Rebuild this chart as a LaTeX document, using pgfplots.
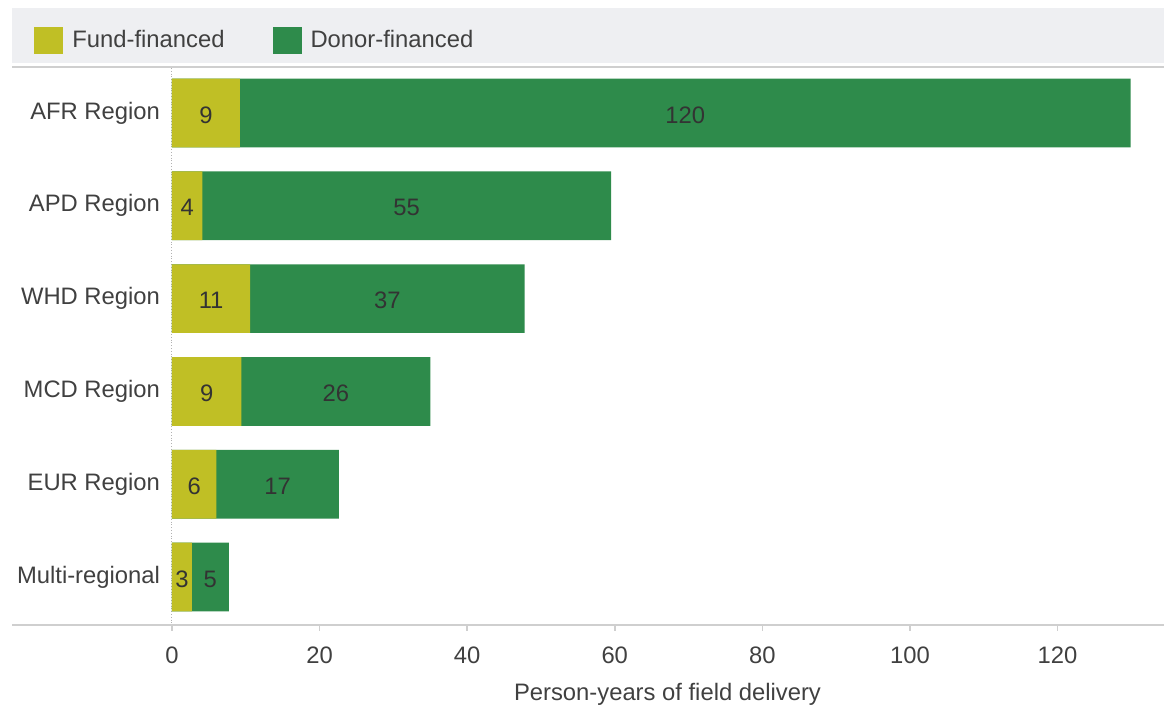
\documentclass[border=0pt]{standalone}
\usepackage{pgfplots}
\pgfplotsset{compat=1.18}
\usepackage{pgfplotstable}
\usepackage{fontspec}
\setmainfont{Liberation Sans}
\definecolor{fund}{HTML}{C0BF25}
\definecolor{donor}{HTML}{2E8B4B}
\definecolor{txt}{HTML}{404040}
\definecolor{band}{HTML}{EEEFF2}
\definecolor{rulec}{HTML}{CFCFCF}
\pgfplotstableread{
y fund donor fl dl
0 9.2 120.7 9 120
1 4.1 55.4 4 55
2 10.6 37.2 11 37
3 9.4 25.6 9 26
4 6.0 16.6 6 17
5 2.7 5.0 3 5
}\data
\begin{document}
\begin{tikzpicture}
\useasboundingbox (0,0) rectangle (582pt,353pt);
\fill[band] (6pt,321.5pt) rectangle (582pt,349pt);
\draw[rulec, line width=1pt] (6pt,319.5pt) -- (582pt,319.5pt);
\draw[rulec, line width=1pt] (6pt,40.5pt) -- (582pt,40.5pt);
\begin{axis}[
  at={(86pt,40.5pt)}, anchor=south west,
  scale only axis, width=495.5pt, height=278.5pt,
  xmin=0, xmax=134.3, ymin=-0.484, ymax=5.516, y dir=reverse,
  axis line style={draw=none},
  xtick={0,20,...,120}, ytick={0,...,5},
  yticklabels={AFR Region, APD Region, WHD Region, MCD Region, EUR Region, Multi-regional},
  xtick pos=bottom, tick align=outside, major tick length=3pt,
  x tick style={rulec, line width=0.8pt},
  y tick style={draw=none},
  /pgf/number format/assume math mode=true,
  every tick label/.append style={font=\fontsize{11.9}{14}\selectfont, text=txt},
  yticklabel style={anchor=east, xshift=0.5pt},
  xticklabel style={yshift=-4.5pt},
  xlabel={Person-years of field delivery},
  xlabel style={font=\fontsize{11.9}{14}\selectfont, text=txt, at={(axis description cs:0.5,0)}, anchor=center, yshift=-34.5pt},
  extra x ticks={0}, extra x tick labels={},
  extra x tick style={grid=major, major grid style={densely dotted, gray!60, line width=0.5pt}},
  legend columns=2, reverse legend,
  legend style={draw=none, fill=none, at={(axis description cs:-0.1453,1.05)}, anchor=west,
    font=\fontsize{11.9}{14}\selectfont, text=txt,
    /tikz/every odd column/.append style={column sep=2.5pt},
    /tikz/every even column/.append style={column sep=22pt}},
  legend image code/.code={\fill[#1] (0pt,-6.8pt) rectangle (14.5pt,6.8pt);},
  nodes near coords style={anchor=center, yshift=-1pt, font=\fontsize{11.9}{14}\selectfont, text=black!80},
]
\addplot[xbar, bar shift=0pt, bar width=0.74, fill=donor, draw=none]
  table[x expr=\thisrow{fund}+\thisrow{donor}, y=y] {\data};
\addlegendentry{Donor-financed}
\addplot[xbar, bar shift=0pt, bar width=0.74, fill=fund, draw=none]
  table[x=fund, y=y] {\data};
\addlegendentry{Fund-financed}
\addplot[draw=none, mark=none, forget plot, nodes near coords, point meta=explicit symbolic]
  table[x expr=\thisrow{fund}/2, y=y, meta=fl] {\data};
\addplot[draw=none, mark=none, forget plot, nodes near coords, point meta=explicit symbolic]
  table[x expr=\thisrow{fund}+\thisrow{donor}/2, y=y, meta=dl] {\data};
\end{axis}
\end{tikzpicture}
\end{document}
